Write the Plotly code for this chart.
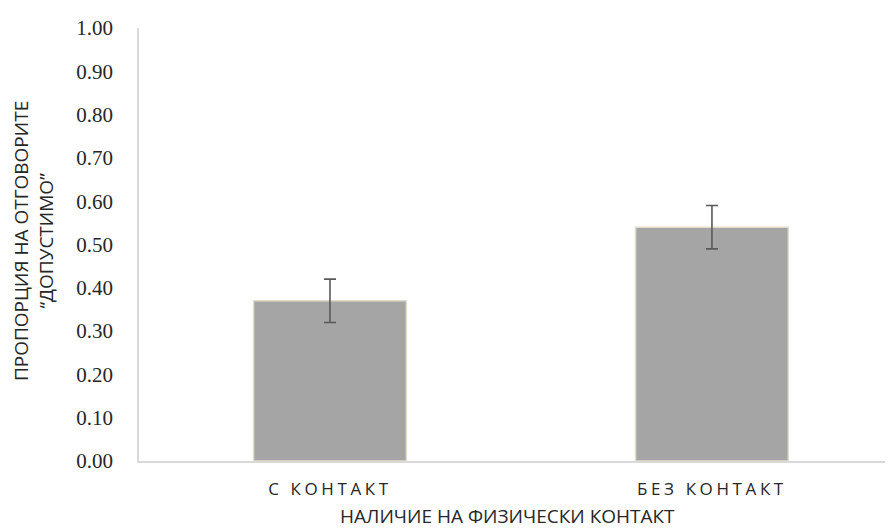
import plotly.graph_objects as go

categories = ["С КОНТАКТ", "БЕЗ КОНТАКТ"]
values = [0.37, 0.54]
errors = [0.05, 0.05]
y_ticks = [0.0, 0.1, 0.2, 0.3, 0.4, 0.5, 0.6, 0.7, 0.8, 0.9, 1.0]
y_tick_labels = ["0.00", "0.10", "0.20", "0.30", "0.40", "0.50", "0.60", "0.70", "0.80", "0.90", "1.00"]

tick_text = ['<span style="letter-spacing:3.6px">%s</span>' % c for c in categories]

# page body has an 8px margin; compensate so the plot area lands at the same screen pixels
OFF = 8
L, T, R_EDGE, B_EDGE = 139 - OFF, 22 - OFF, 893 - OFF, 461 - OFF
W, H = 893, 531
pw, ph = R_EDGE - L, B_EDGE - T

fig = go.Figure()
fig.add_trace(go.Bar(
    x=list(range(len(categories))),
    y=values,
    width=0.40,
    marker=dict(color="#a5a5a5", line=dict(color="#e2ddc8", width=1.5)),
    error_y=dict(type="data", array=errors, visible=True, color="#595959", thickness=1.6, width=6),
))

fig.update_layout(
    width=W, height=H,
    paper_bgcolor="white", plot_bgcolor="white",
    margin=dict(l=L, r=W - R_EDGE, t=T, b=H - B_EDGE),
    showlegend=False,
    font=dict(family="Open Sans, sans-serif", color="#262626"),
    xaxis=dict(
        range=[-0.5, 1.474],
        tickmode="array", tickvals=list(range(len(categories))), ticktext=tick_text,
        tickfont=dict(family="Open Sans, sans-serif", size=17, color="#262626"),
        showline=True, linecolor="#d9d9d9", linewidth=1.5,
        showgrid=False, zeroline=False, ticks="", ticklabelstandoff=12,
    ),
    yaxis=dict(
        range=[0, 1.0], tickmode="array", tickvals=y_ticks, ticktext=y_tick_labels,
        tickfont=dict(family="Liberation Serif, serif", size=21, color="#262626"),
        showline=True, linecolor="#d9d9d9", linewidth=1.5,
        showgrid=False, zeroline=False, ticks="", ticklabelstandoff=20,
    ),
    annotations=[
        dict(text="НАЛИЧИЕ НА ФИЗИЧЕСКИ КОНТАКТ", xref="paper", yref="paper",
             x=(507 - OFF - L) / pw, y=-(517 - 461) / ph,
             xanchor="center", yanchor="middle", showarrow=False,
             font=dict(family="Open Sans, sans-serif", size=19, color="#262626")),
        dict(text="ПРОПОРЦИЯ НА ОТГОВОРИТЕ<br>“ДОПУСТИМО”", xref="paper", yref="paper",
             x=-(L - (33 - OFF)) / pw, y=(461 - 238) / ph,
             xanchor="center", yanchor="middle", showarrow=False, textangle=-90,
             font=dict(family="Open Sans, sans-serif", size=19, color="#262626")),
    ],
)

fig.write_html("out.html")
